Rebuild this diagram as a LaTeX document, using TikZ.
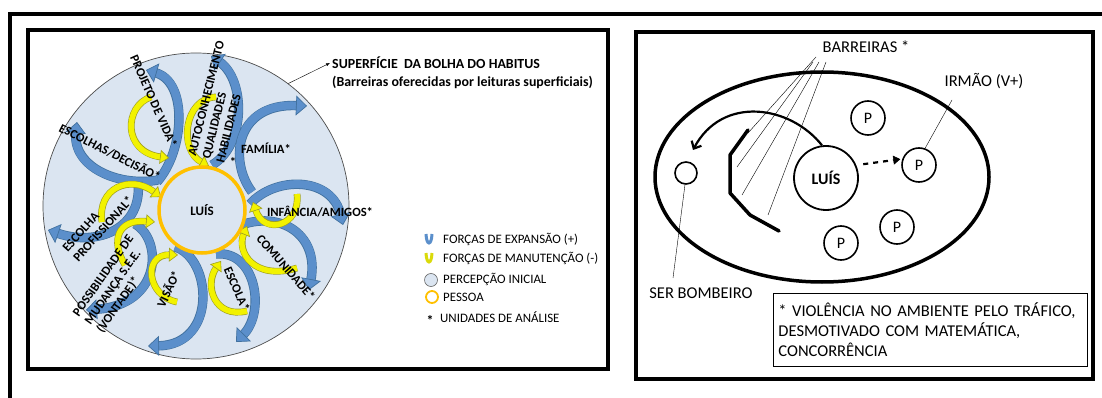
\documentclass[tikz,border=0pt]{standalone}
\usepackage{fontspec}
\setmainfont{Carlito}
\usetikzlibrary{arrows.meta,shapes.geometric}
\definecolor{bolha}{HTML}{DBE5F1}
\definecolor{azul}{HTML}{5B8FCB}
\definecolor{azulesc}{HTML}{41719F}
\definecolor{amarelo}{HTML}{F2F200}
\definecolor{oliva}{HTML}{A0A020}
\definecolor{laranja}{HTML}{FFC000}
\begin{document}
\begin{tikzpicture}[x=1pt, y=-1pt,
  moldura/.style={line width=4pt},
  rotulo/.style={font=\fontsize{12.6}{14.5}\selectfont\bfseries, inner sep=0pt, align=left},
  forca/.style={draw=azul, line width=8pt,
    preaction={draw=azulesc, line width=9.4pt, arrows=-, shorten >=10pt},
    -{Triangle[width=20pt,length=11pt,line width=0.7pt,color=azulesc,fill=azul]}},
  manut/.style={draw=amarelo, line width=5.5pt,
    preaction={draw=oliva, line width=6.8pt, arrows=-, shorten >=8pt},
    -{Triangle[width=14pt,length=9pt,line width=0.6pt,fill=amarelo,color=oliva]}},
  leg/.style={font=\fontsize{12.9}{15}\selectfont, anchor=west, inner sep=0pt},
  txt/.style={font=\fontsize{16.5}{20}\selectfont, inner sep=0pt},
  pess/.style={circle, draw, line width=1.6pt, minimum size=34pt, inner sep=0pt,
    font=\fontsize{16}{18}\selectfont}
]
  \useasboundingbox (0,0) rectangle (1102,398);
  \draw[moldura] (10,402) -- (10,14) -- (1106,14);
  \draw[moldura] (28,30) rectangle (608,369);
  \draw[moldura] (636,32) rectangle (1093,379);

  % bolha do habitus
  \node[circle, draw=black!70, fill=bolha, line width=0.7pt, minimum size=306pt,
        inner sep=0pt] (bolha) at (196,206) {};

  % forcas de expansao
  \draw[forca] (157,182) .. controls (185,150) and (188,82) .. (146,70);
  \draw[forca] (158,180) .. controls (120,187) and (72,168) .. (77,122);
  \draw[forca] (212,165) .. controls (246,145) and (246,80) .. (211,56);
  \draw[forca] (252,192) .. controls (228,160) and (236,103) .. (307,106);
  \draw[forca] (250,204) .. controls (275,176) and (332,176) .. (343,225);
  \draw[forca] (234,228) .. controls (276,208) and (320,232) .. (309,290);
  \draw[forca] (216,254) .. controls (256,250) and (266,312) .. (236,342);
  \draw[forca] (175,247) .. controls (212,258) and (218,345) .. (148,346);
  \draw[forca] (135,224) .. controls (163,240) and (162,305) .. (86,310);
  \draw[forca] (138,182) .. controls (143,228) and (98,247) .. (48,230);

  % forcas de manutencao
  \draw[manut] (151,97) .. controls (124,106) and (122,152) .. (169,158);
  \draw[manut] (216,97) .. controls (184,98) and (178,150) .. (209,166);
  \draw[manut] (297,194) .. controls (301,226) and (264,236) .. (253,202);
  \draw[manut] (297,268) .. controls (254,281) and (236,252) .. (247,226);
  \draw[manut] (247,311) .. controls (214,319) and (204,285) .. (221,261);
  \draw[manut] (177,302) .. controls (146,296) and (143,254) .. (178,255);
  \draw[manut] (125,265) .. controls (110,240) and (118,219) .. (155,222);
  \draw[manut] (102,222) .. controls (97,188) and (130,174) .. (161,197);

  \node[circle, draw=laranja, fill=bolha, line width=3.5pt, minimum size=86pt,
        font=\fontsize{13}{15}\selectfont\bfseries] (luis) at (202,210) {LUÍS};

  \node[rotulo, rotate=-66] (projeto) at (154,101) {PROJETO DE VIDA*};
  \node[rotulo, rotate=-27] (escolhas) at (110,152) {ESCOLHAS/DECISÃO*};
  \node[rotulo, rotate=76, anchor=west] (autoconh) at (206,159)
        {AUTOCONHECIMENTO\\QUALIDADES\\HABILIDADES};
  \node[rotulo] (ast) at (233,162) {*};
  \node[rotulo] (familia) at (266,148) {FAMÍLIA*};
  \node[rotulo] (infancia) at (320,212) {INFÂNCIA/AMIGOS*};
  \node[rotulo, rotate=-49] (comunidade) at (286,267) {COMUNIDADE*};
  \node[rotulo, rotate=-66] (escola) at (237,289) {ESCOLA*};
  \node[rotulo, rotate=65] (visao) at (168,289) {VISÃO*};
  \node[rotulo, rotate=55, anchor=west] (possib) at (88,324)
        {POSSIBILIDADE DE\\MUDANÇA S.E.E.\\(VONTADE)*};
  \node[rotulo, rotate=48, anchor=west] (escprof) at (70,255)
        {ESCOLHA\\PROFISSIONAL*};

  \node[font=\fontsize{13.9}{16}\selectfont\bfseries, anchor=west, inner sep=0pt]
        (superf) at (332,63) {SUPERFÍCIE\ \ DA BOLHA DO HABITUS};
  \node[font=\fontsize{13.9}{16}\selectfont\bfseries, anchor=west, inner sep=0pt]
        (superf2) at (332,82) {(Barreiras oferecidas por leituras superficiais)};
  \draw[thin, -{Latex[length=4pt,width=3pt]}] (bolha.53) -- ([xshift=-2pt]superf.west);

  % legenda
  \draw[azul, line width=3pt] (426,234) .. controls (426.5,246) and (431.5,246) .. (432,234);
  \draw[amarelo!70!oliva, line width=3pt] (426,253) .. controls (426.5,265) and (431.5,265) .. (432,253);
  \node[circle, draw=black!60, fill=bolha, line width=0.6pt, minimum size=13pt,
        inner sep=0pt] (legbolha) at (431,280) {};
  \node[circle, draw=laranja, line width=1.8pt, minimum size=12pt,
        inner sep=0pt] (legpessoa) at (432,297) {};
  \node[font=\fontsize{14}{14}\selectfont\bfseries, inner sep=0pt] (legast) at (430,320) {*};
  \node[leg] (l1) at (443,239) {FORÇAS DE EXPANSÃO (+)};
  \node[leg] (l2) at (443,258) {FORÇAS DE MANUTENÇÃO (-)};
  \node[leg] (l3) at (443,279) {PERCEPÇÃO INICIAL};
  \node[leg] (l4) at (443,297) {PESSOA};
  \node[leg] (l5) at (440,317) {UNIDADES DE ANÁLISE};

  % quadro da direita
  \node[ellipse, draw, line width=3.5pt, minimum width=334pt, minimum height=210pt]
        (habitus) at (822,177) {};
  \node[circle, draw, line width=1.8pt, minimum size=64pt,
        font=\fontsize{16}{18}\selectfont\bfseries] (luis2) at (826,178) {LUÍS};
  \node[pess] (p1) at (868,118) {P};
  \node[pess] (irmao) at (919,165) {P};
  \node[pess] (p3) at (897,227) {P};
  \node[pess] (p4) at (841,243) {P};
  \node[circle, draw, line width=1.6pt, minimum size=22pt, inner sep=0pt] (bombeiro) at (686,173) {};

  \coordinate (alvo) at (693,150);
  \draw[line width=2.2pt, -{Straight Barb[length=6pt,width=11pt]}]
        (luis2.97) .. controls (790,105) and (722,95) .. (alvo);
  \draw[line width=2.2pt, dash pattern=on 5pt off 5pt, shorten <=7pt, shorten >=2pt,
        -{Triangle[length=7pt,width=9pt,line width=0.5pt]}] (luis2.23) -- (irmao.160);

  \coordinate (b1) at (748,130);
  \coordinate (b2) at (730,155);
  \coordinate (b3) at (730,193);
  \coordinate (b4) at (750,215);
  \coordinate (b5) at (779,231);
  \draw[line width=3.5pt, line cap=round, line join=round] (b1) -- (b2) -- (b3) -- (b4) -- (b5);

  \node[txt] (barreiras) at (866,47) {BARREIRAS *};
  \coordinate (c1) at (748,133);
  \coordinate (c2) at (737,167);
  \coordinate (c3) at (742,195);
  \coordinate (c4) at (768,215);
  \draw[thin] (816,57) -- (c1);
  \draw[thin] (813,62) -- (c2);
  \draw[thin] (819,62) -- (c3);
  \draw[thin] (826,62) -- (c4);

  \node[txt] (irmaolbl) at (984,81) {IRMÃO (V+)};
  \coordinate (irmaolin) at (952,100);
  \draw[thin] (irmaolin) -- (irmao.70);

  \node[txt] (serbomb) at (701,293) {SER BOMBEIRO};
  \coordinate (bomblin) at (673,278);
  \draw[thin] (bombeiro.-95) -- (bomblin);

  \node[draw, line width=0.9pt, anchor=north west, text width=304pt, minimum height=73pt,
        inner xsep=5pt, align=left, font=\fontsize{16.5}{20}\selectfont] (nota) at (773,293)
        {* VIOLÊNCIA NO AMBIENTE PELO TRÁFICO,\\DESMOTIVADO COM MATEMÁTICA,\\CONCORRÊNCIA};
\end{tikzpicture}
\end{document}
